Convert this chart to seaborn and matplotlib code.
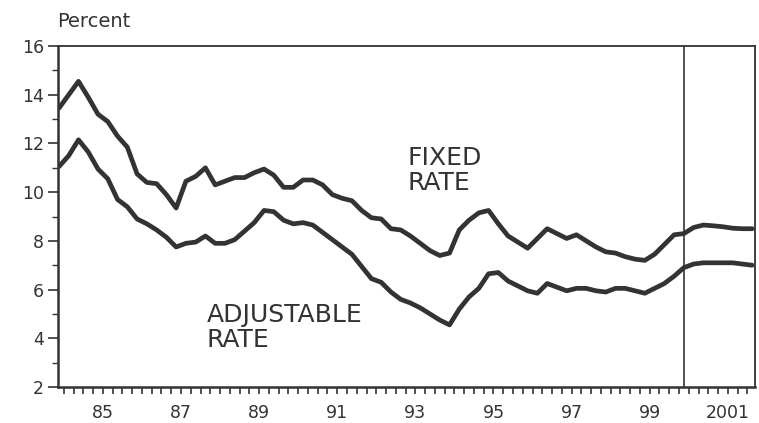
import numpy as np
import matplotlib
matplotlib.use("Agg")
import matplotlib.pyplot as plt
import seaborn as sns
from matplotlib.ticker import FixedLocator, MultipleLocator

# quarterly observations, 1984Q2 onward (mid-quarter positions)
quarters = np.arange(1984.375, 2002.2, 0.25)[:72]

fixed_rate = [
    13.45, 14.0, 14.55, 13.9, 13.2, 12.9, 12.3, 11.85, 10.75, 10.4,
    10.35, 9.9, 9.35, 10.45, 10.65, 11.0, 10.3, 10.45, 10.6, 10.6,
    10.8, 10.95, 10.7, 10.2, 10.2, 10.5, 10.5, 10.3, 9.9, 9.75,
    9.65, 9.25, 8.95, 8.9, 8.5, 8.45, 8.2, 7.9, 7.6, 7.4,
    7.5, 8.45, 8.85, 9.15, 9.25, 8.7, 8.2, 7.95, 7.7, 8.1,
    8.5, 8.3, 8.1, 8.25, 8.0, 7.75, 7.55, 7.5, 7.35, 7.25,
    7.2, 7.45, 7.85, 8.25, 8.3, 8.55, 8.65, 8.62, 8.58, 8.52,
    8.5, 8.5,
]

adjustable_rate = [
    11.05, 11.5, 12.15, 11.65, 10.95, 10.55, 9.7, 9.4, 8.9, 8.7,
    8.45, 8.15, 7.75, 7.9, 7.95, 8.2, 7.9, 7.9, 8.05, 8.4,
    8.75, 9.25, 9.2, 8.85, 8.7, 8.75, 8.65, 8.35, 8.05, 7.75,
    7.45, 6.95, 6.45, 6.3, 5.9, 5.6, 5.45, 5.25, 5.0, 4.75,
    4.55, 5.2, 5.7, 6.05, 6.65, 6.7, 6.35, 6.15, 5.95, 5.85,
    6.25, 6.1, 5.95, 6.05, 6.05, 5.95, 5.9, 6.05, 6.05, 5.95,
    5.85, 6.05, 6.25, 6.55, 6.9, 7.05, 7.1, 7.1, 7.1, 7.1,
    7.05, 7.0,
]

year_labels = ["85", "87", "89", "91", "93", "95", "97", "99", "2001"]
label_pos = [1985.5, 1987.5, 1989.5, 1991.5, 1993.5, 1995.5, 1997.5, 1999.5, 2001.5]
forecast_start = 2000.37

ink = "#333333"

sns.set_style("ticks")
plt.rcParams["font.family"] = ["DejaVu Sans"]

fig = plt.figure(figsize=(7.59, 4.23), dpi=100)
ax = fig.add_axes([0.0764, 0.0851, 0.918, 0.806])

line_kw = dict(color=ink, linewidth=3.4, solid_joinstyle="round", solid_capstyle="round")
sns.lineplot(x=quarters, y=fixed_rate, ax=ax, **line_kw)
sns.lineplot(x=quarters, y=adjustable_rate, ax=ax, **line_kw)

ax.axvline(forecast_start, color=ink, linewidth=1.2)

ax.set_xlim(1984.35, 2002.19)
ax.set_ylim(2, 16)

ax.yaxis.set_major_locator(MultipleLocator(2))
ax.yaxis.set_minor_locator(MultipleLocator(1))
ax.xaxis.set_major_locator(FixedLocator(label_pos))
ax.xaxis.set_minor_locator(MultipleLocator(0.25))
ax.set_xticklabels(year_labels)

ax.tick_params(axis="y", which="major", length=7, width=1.2, color=ink,
               labelsize=12.5, labelcolor=ink, pad=3)
ax.tick_params(axis="y", which="minor", length=4, width=1.0, color=ink)
ax.tick_params(axis="x", which="major", length=5, width=1.2, color=ink,
               labelsize=12.5, labelcolor=ink, pad=7)
ax.tick_params(axis="x", which="minor", length=5, width=1.2, color=ink)

for side in ["left", "bottom"]:
    ax.spines[side].set_linewidth(1.8)
    ax.spines[side].set_color(ink)
for side in ["top", "right"]:
    ax.spines[side].set_visible(True)
    ax.spines[side].set_linewidth(1.3)
    ax.spines[side].set_color(ink)

ax.set_xlabel("")
ax.set_ylabel("")

# series labels
lab_kw = dict(fontsize=18, color=ink, va="baseline")
ax.text(1993.31, 11.115, "FIXED", **lab_kw)
ax.text(1993.31, 10.09, "RATE", **lab_kw)
ax.text(1988.16, 4.67, "ADJUSTABLE", **lab_kw)
ax.text(1988.16, 3.64, "RATE", **lab_kw)

fig.text(0.075, 0.936, "Percent", fontsize=14, color=ink, va="baseline")

fig.savefig("out.png", dpi=100)
plt.close(fig)
